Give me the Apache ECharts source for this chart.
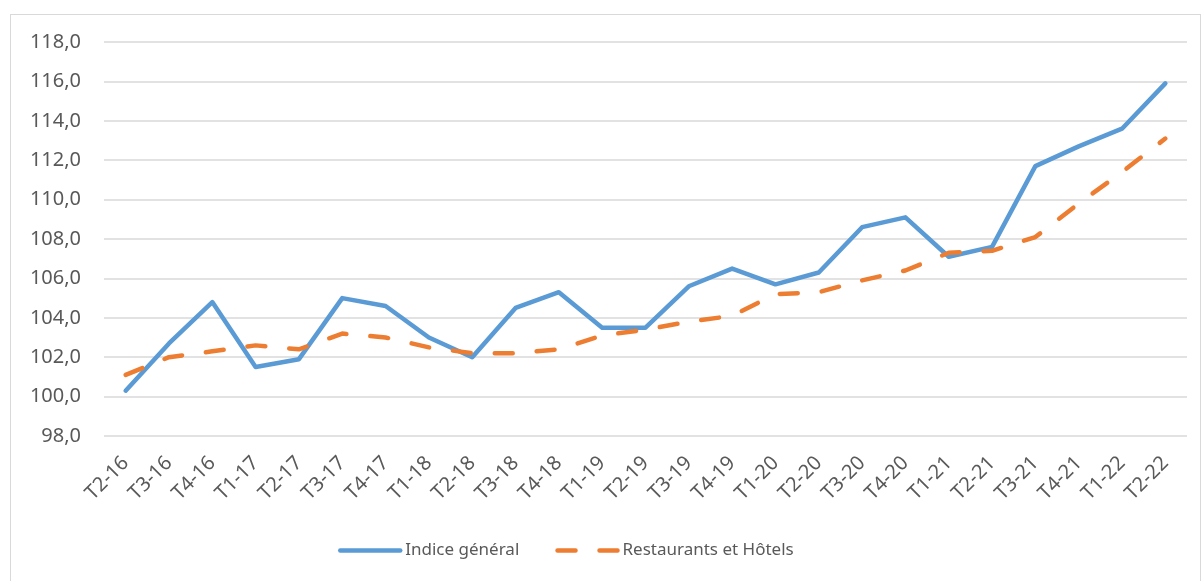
<!DOCTYPE html>
<html>
<head>
<meta charset="utf-8">
<script src="https://cdn.jsdelivr.net/npm/echarts@6/dist/echarts.min.js"></script>
<style>
  html, body { margin: 0; padding: 0; background: #fff; }
  .chart-wrap {
    position: absolute;
    left: 10px;
    top: 14px;
    width: 1191px;
    height: 580px;
    border: 1px solid #d9d9d9;
    box-sizing: border-box;
  }
  #chart { position: absolute; left: 0; top: 0; width: 1203px; height: 581px; }
</style>
</head>
<body>
<div class="chart-wrap"></div>
<div id="chart"></div>
<script>
// trimestres
const categories = [
  'T2-16', 'T3-16', 'T4-16', 'T1-17', 'T2-17', 'T3-17', 'T4-17', 'T1-18', 'T2-18',
  'T3-18', 'T4-18', 'T1-19', 'T2-19', 'T3-19', 'T4-19', 'T1-20', 'T2-20', 'T3-20',
  'T4-20', 'T1-21', 'T2-21', 'T3-21', 'T4-21', 'T1-22', 'T2-22'
];
const indiceGeneral = [
  100.3, 102.7, 104.8, 101.5, 101.9, 105.0, 104.6, 103.0, 102.0,
  104.5, 105.3, 103.5, 103.5, 105.6, 106.5, 105.7, 106.3, 108.6,
  109.1, 107.1, 107.6, 111.7, 112.7, 113.6, 115.9
];
const restaurantsHotels = [
  101.1, 102.0, 102.3, 102.6, 102.4, 103.2, 103.0, 102.5, 102.2,
  102.2, 102.4, 103.1, 103.4, 103.8, 104.1, 105.2, 105.3, 105.9,
  106.4, 107.3, 107.4, 108.1, 109.8, 111.4, 113.1
];
const yMin = 98;
const yMax = 118;
const yStep = 2;

const fontFamily = '"Noto Sans", "Open Sans", sans-serif';
const textColor = '#595959';

const myChart = echarts.init(document.getElementById('chart'));

const options = {
  animation: false,
  color: ['#5B9BD5', '#ED7D31'],
  textStyle: { fontFamily: fontFamily },
  grid: {
    left: 104,
    right: 16,
    top: 42,
    bottom: 145
  },
  legend: {
    bottom: 17,
    left: 333,
    itemWidth: 60,
    itemHeight: 14,
    itemGap: 36,
    itemStyle: { opacity: 0 },
    lineStyle: { width: 4.5, cap: 'round' },
    textStyle: { color: textColor, fontSize: 17, fontFamily: fontFamily },
    data: ['Indice général', 'Restaurants et Hôtels']
  },
  xAxis: {
    type: 'category',
    data: categories,
    boundaryGap: true,
    axisLine: { show: false },
    axisTick: { show: false },
    axisLabel: {
      rotate: 45,
      interval: 0,
      margin: 24,
      fontSize: 20,
      color: textColor,
      fontFamily: fontFamily
    }
  },
  yAxis: {
    type: 'value',
    min: yMin,
    max: yMax,
    interval: yStep,
    axisLine: { show: false },
    axisTick: { show: false },
    splitLine: { lineStyle: { color: '#d9d9d9', width: 1.5 } },
    axisLabel: {
      margin: 23,
      fontSize: 20,
      color: textColor,
      fontFamily: fontFamily,
      formatter: (v) => v.toFixed(1).replace('.', ',')
    }
  },
  series: [
    {
      name: 'Indice général',
      type: 'line',
      data: indiceGeneral,
      symbol: 'none',
      lineStyle: { width: 4.5, color: '#5B9BD5', cap: 'round', join: 'round' }
    },
    {
      name: 'Restaurants et Hôtels',
      type: 'line',
      data: restaurantsHotels,
      symbol: 'none',
      lineStyle: { width: 4.5, color: '#ED7D31', type: [18, 24], cap: 'round', join: 'round' }
    }
  ]
};

myChart.setOption(options, true);
</script>
</body>
</html>
